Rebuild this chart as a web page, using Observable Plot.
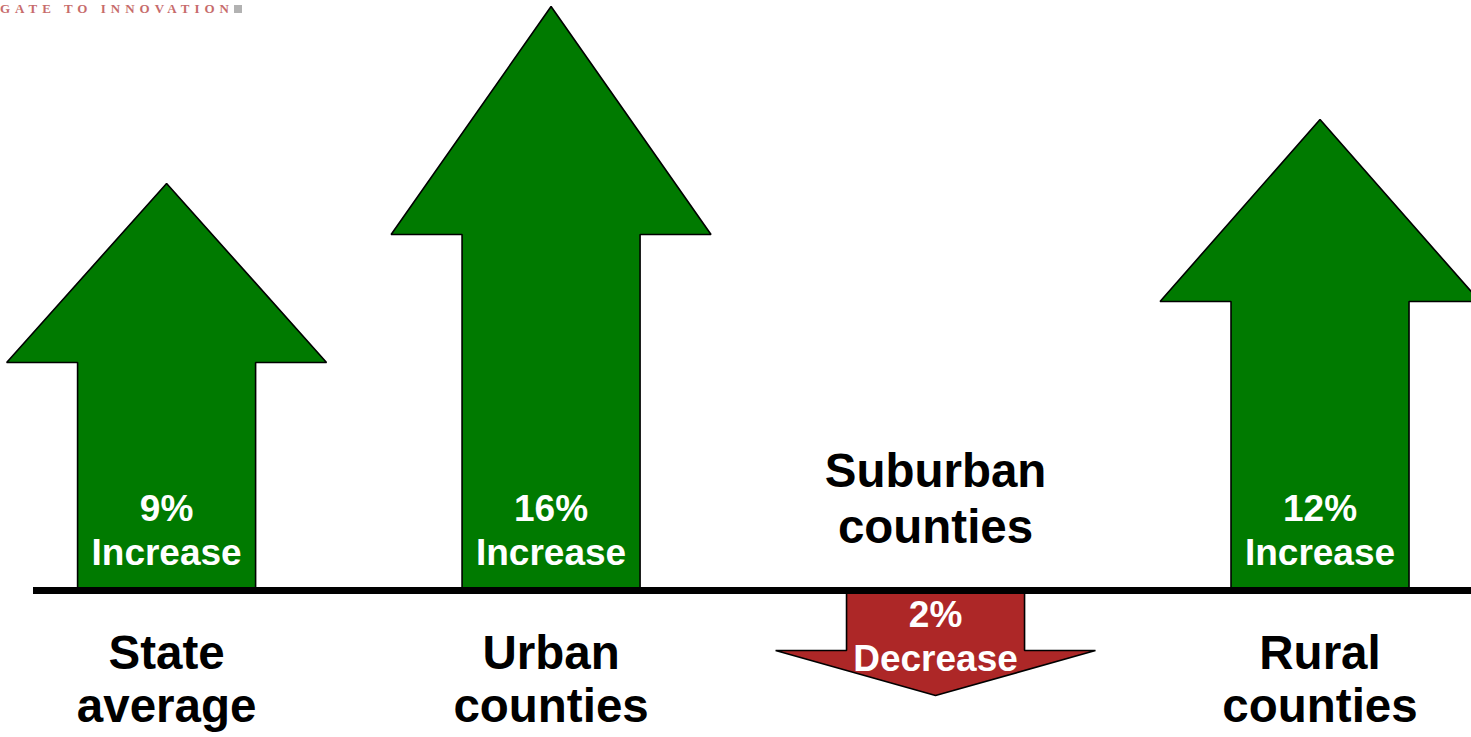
<!DOCTYPE html>
<html>
<head>
<meta charset="utf-8">
<script src="https://cdn.jsdelivr.net/npm/d3@7"></script>
<script src="https://cdn.jsdelivr.net/npm/@observablehq/plot@0.6"></script>
<style>
  html, body { margin: 0; padding: 0; background: #fff; overflow: hidden; }
  #wrap { position: relative; width: 1471px; height: 737px; }
  #logo { position: absolute; left: 0px; top: 1px; font-family: "Liberation Serif", serif; font-weight: bold;
          font-size: 13px; line-height: 15px; letter-spacing: 5px; color: #b53a3a; opacity: 0.75; white-space: nowrap; }
  #logo span { display: inline-block; width: 8px; height: 8px; background: #999; margin-left: 0px; vertical-align: 0px; }
</style>
</head>
<body>
<div id="wrap"><div id="logo">GATE TO INNOVATION<span></span></div></div>
<script>
// ---- data ----
const categories = ["State\naverage", "Urban\ncounties", "Suburban\ncounties", "Rural\ncounties"];
const changes = [9, 16, -2, 12];               // percent change
const arrowTip = [40.7, 58.4, -10.5, 47.1];     // drawn arrow length (arbitrary units, as in picture)
const arrowShoulder = [22.8, 35.6, -6.0, 28.9]; // where the arrow head starts (same units)

// ---- arrow shape (style constants) ----
const shaftHalf = 0.2315, headHalf = 0.416;

const rows = categories.map((c, i) => ({
  i, cat: c, v: changes[i], tip: arrowTip[i], sh: arrowShoulder[i],
  pct: `${Math.abs(changes[i])}%\n${changes[i] >= 0 ? "Increase" : "Decrease"}`
}));

const poly = rows.flatMap(d => [
  [d.i - shaftHalf, 0], [d.i - shaftHalf, d.sh], [d.i - headHalf, d.sh], [d.i, d.tip],
  [d.i + headHalf, d.sh], [d.i + shaftHalf, d.sh], [d.i + shaftHalf, 0]
].map(([x, y]) => ({x, y, cat: d.cat, up: d.v >= 0})));

const font = "'Liberation Sans', Arial, sans-serif";

const chart = Plot.plot({
  width: 1471, height: 737,
  marginTop: 0, marginBottom: 0, marginLeft: 0, marginRight: 0,
  x: {type: "linear", domain: [-0.432, 3.394], axis: null},
  y: {type: "linear", domain: [-14.7, 59], axis: null},
  style: {background: "transparent", overflow: "hidden"},
  marks: [
    Plot.line(poly.filter(d => d.up), {x: "x", y: "y", z: "cat", curve: "linear-closed",
      fill: "#007A00", stroke: "black", strokeWidth: 1.6, strokeLinejoin: "miter"}),
    Plot.line(poly.filter(d => !d.up), {x: "x", y: "y", z: "cat", curve: "linear-closed",
      fill: "#AD2727", stroke: "black", strokeWidth: 1.6, strokeLinejoin: "miter"}),
    Plot.ruleY([0], {stroke: "black", strokeWidth: 7, insetLeft: 33}),
    // percent labels inside arrows
    Plot.text(rows.filter(d => d.v >= 0), {x: "i", y: () => 0, text: "pct", lineAnchor: "bottom", dy: -26,
      lineHeight: 1.18, fontSize: 37, fontWeight: "bold", fontFamily: font, fill: "white"}),
    Plot.text(rows.filter(d => d.v < 0), {x: "i", y: () => 0, text: "pct", lineAnchor: "bottom", dy: 80,
      lineHeight: 1.18, fontSize: 37, fontWeight: "bold", fontFamily: font, fill: "white"}),
    // category labels, opposite side from arrow
    Plot.text(rows.filter(d => d.v >= 0), {x: "i", y: () => 0, text: "cat", lineAnchor: "bottom", dy: 131,
      lineHeight: 1.1, fontSize: 47.5, fontWeight: "bold", fontFamily: font, fill: "black"}),
    Plot.text(rows.filter(d => d.v < 0), {x: "i", y: () => 0, text: "cat", lineAnchor: "bottom", dy: -48,
      lineHeight: 1.16, fontSize: 47.5, fontWeight: "bold", fontFamily: font, fill: "black"})
  ]
});
chart.style.position = "absolute";
chart.style.left = "0px";
chart.style.top = "0px";
document.getElementById("wrap").prepend(chart);
</script>
</body>
</html>
